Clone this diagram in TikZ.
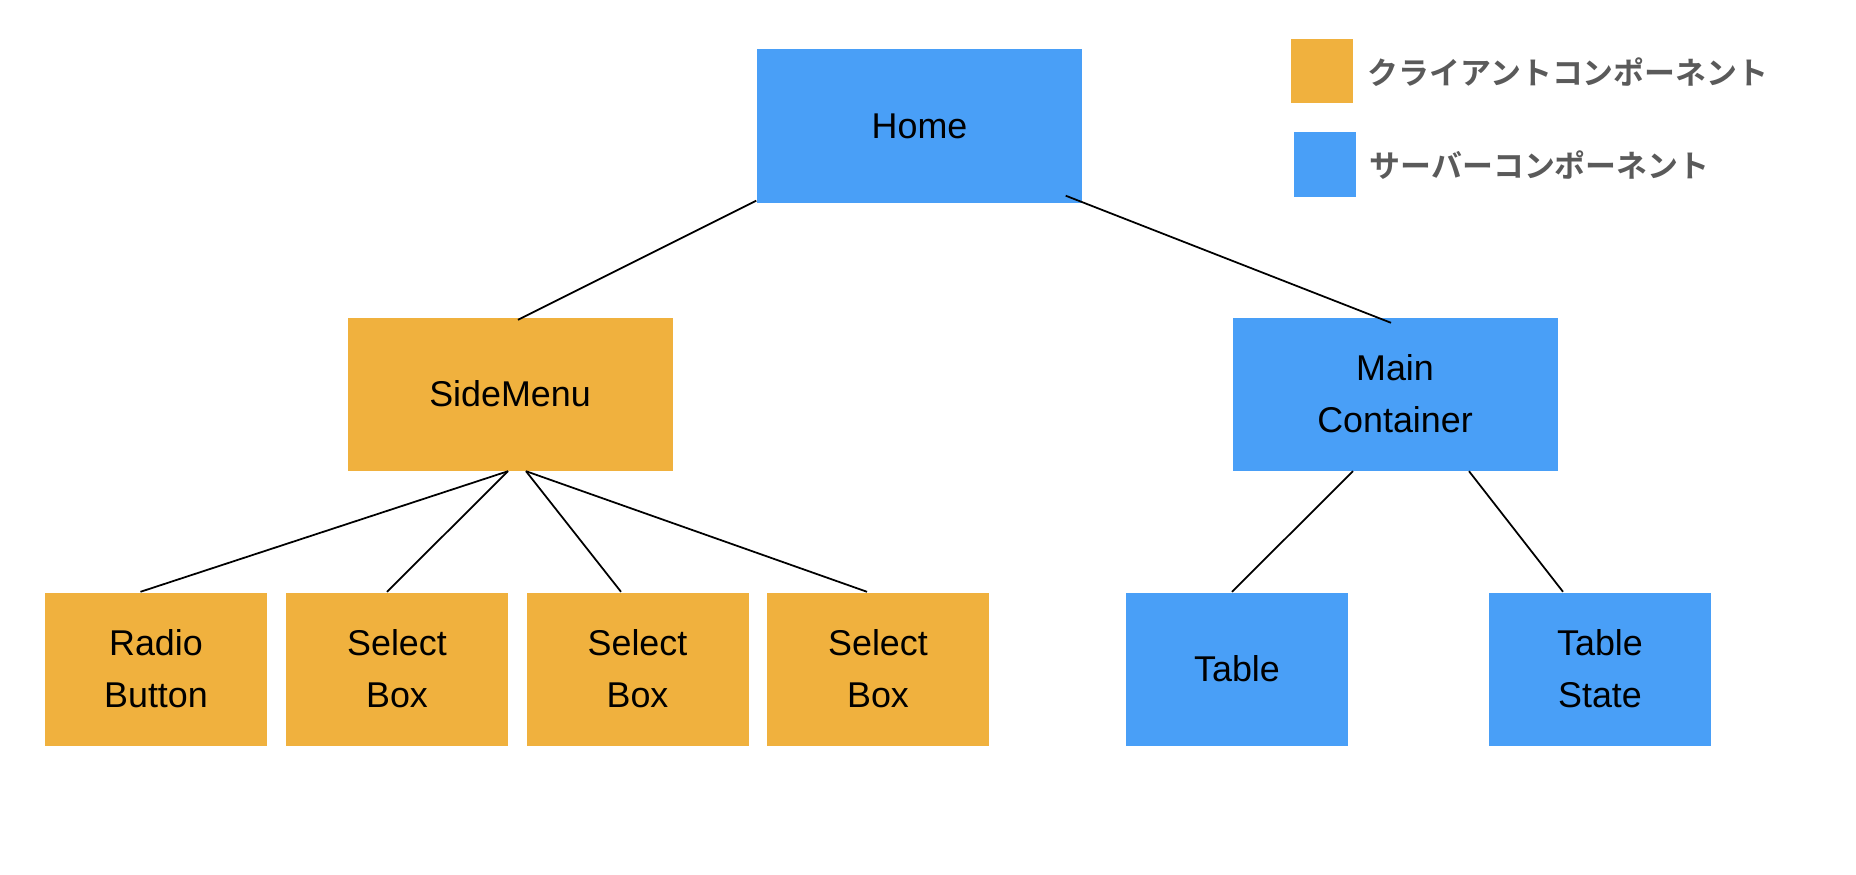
\documentclass[tikz,border=0pt]{standalone}
\usepackage{fontspec}
\setmainfont{Liberation Sans}
\newfontfamily\jpfont[BoldFont={Noto Sans CJK JP Bold}]{Noto Sans CJK JP}
\definecolor{clientorange}{RGB}{240, 177, 62}
\definecolor{serverblue}{RGB}{73, 159, 247}
\definecolor{legendgray}{RGB}{90, 90, 90}
\usetikzlibrary{positioning, calc}

\begin{document}
\begin{tikzpicture}[
  comp/.style={inner sep=0pt, align=center, font=\fontsize{10.2}{14.8}\selectfont},
  client/.style={comp, fill=clientorange},
  server/.style={comp, fill=serverblue},
  parent/.style={minimum width=3.25cm, minimum height=1.53cm},
  leaf/.style={minimum width=2.22cm, minimum height=1.53cm},
  link/.style={line width=0.5pt},
  legend/.style={anchor=west, inner sep=0pt, text=legendgray, font=\jpfont\bfseries\fontsize{8.8}{11}\selectfont}
]
  \useasboundingbox (0, 0) rectangle (18.56, 8.74);

  % top
  \node[server, parent, minimum height=1.54cm] (home) at (9.195, 7.48) {Home};

  % middle
  \node[client, parent] (side) at (5.10, 4.80) {SideMenu};
  \node[server, parent] (main) at (13.95, 4.80) {Main\\Container};

  % bottom
  \node[client, leaf] (radio) at (1.56, 2.05) {Radio\\Button};
  \node[client, leaf] (sel1) at (3.97, 2.05) {Select\\Box};
  \node[client, leaf] (sel2) at (6.375, 2.05) {Select\\Box};
  \node[client, leaf] (sel3) at (8.78, 2.05) {Select\\Box};
  \node[server, leaf] (table) at (12.37, 2.05) {Table};
  \node[server, leaf] (tstate) at (16.00, 2.05) {Table\\State};

  % legend
  \node[fill=clientorange, minimum width=0.62cm, minimum height=0.64cm, inner sep=0pt] (keyc) at (13.22, 8.03) {};
  \node[fill=serverblue, minimum width=0.62cm, minimum height=0.65cm, inner sep=0pt] (keys) at (13.25, 7.095) {};
  \node[legend] (keyctext) at (13.67, 8.02) {クライアントコンポーネント};
  \node[legend] (keystext) at (13.69, 7.09) {サーバーコンポーネント};

  % connectors
  \draw[link] ([yshift=0.03cm]home.south west) -- ([xshift=0.08cm, yshift=-0.03cm]side.north);
  \draw[link] ([xshift=-0.17cm, yshift=0.08cm]home.south east) -- ([xshift=-0.04cm, yshift=-0.06cm]main.north);

  \draw[link] ([xshift=-0.02cm]side.south) -- ([xshift=-0.155cm]radio.north);
  \draw[link] ([xshift=-0.02cm]side.south) -- ([xshift=-0.10cm]sel1.north);
  \draw[link] ([xshift=0.16cm]side.south) -- ([xshift=-0.165cm]sel2.north);
  \draw[link] ([xshift=0.16cm]side.south) -- ([xshift=-0.11cm]sel3.north);

  \draw[link] ([xshift=-0.42cm]main.south) -- ([xshift=-0.05cm]table.north);
  \draw[link] ([xshift=0.74cm]main.south) -- ([xshift=-0.37cm]tstate.north);
\end{tikzpicture}
\end{document}
